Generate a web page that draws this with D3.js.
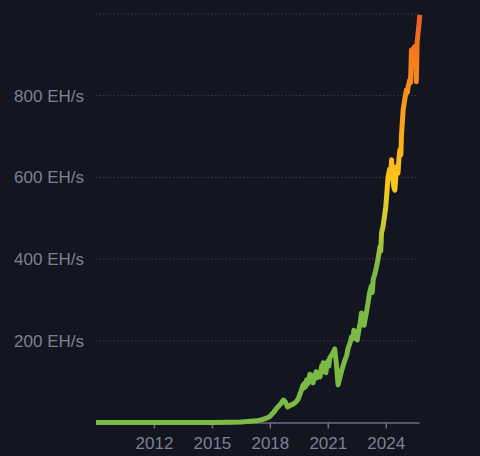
<!DOCTYPE html>
<html>
<head>
<meta charset="utf-8">
<script src="https://cdn.jsdelivr.net/npm/d3@7"></script>
<style>
  html, body { margin: 0; padding: 0; background: #131520; }
  svg { display: block; }
</style>
</head>
<body>
<script>
// hashrate, EH/s (decimal year, value)
var a_years = [2009.0, 2010, 2011, 2012, 2013, 2014, 2015, 2016, 2016.5, 2017, 2017.3, 2017.6, 2017.9,
  2018.0, 2018.2, 2018.35, 2018.55, 2018.7, 2018.8, 2018.92, 2019.05, 2019.2, 2019.35, 2019.47, 2019.6,
  2019.72, 2019.76, 2019.8, 2019.85, 2019.9, 2019.97, 2020.07, 2020.12, 2020.17, 2020.24, 2020.32, 2020.36,
  2020.4, 2020.45, 2020.5, 2020.6, 2020.68, 2020.72, 2020.76, 2020.83, 2020.9, 2020.95, 2021.0, 2021.05,
  2021.1, 2021.2, 2021.28, 2021.36, 2021.45, 2021.53, 2021.6, 2021.7,
  2021.8, 2021.9, 2021.97, 2022.05, 2022.15, 2022.23, 2022.3, 2022.35, 2022.45, 2022.52, 2022.6, 2022.68,
  2022.74, 2022.78, 2022.82, 2022.88, 2022.92, 2023.0, 2023.08, 2023.15, 2023.25, 2023.3, 2023.35, 2023.45,
  2023.52, 2023.6, 2023.7, 2023.74, 2023.78, 2023.86, 2023.95, 2024.0, 2024.07, 2024.12, 2024.2, 2024.25,
  2024.3, 2024.36, 2024.42, 2024.47, 2024.52, 2024.56, 2024.63, 2024.68, 2024.73, 2024.78, 2024.81, 2024.85,
  2024.9, 2024.98, 2025.07, 2025.12, 2025.15, 2025.24, 2025.28, 2025.33, 2025.42, 2025.5, 2025.55, 2025.58,
  2025.6, 2025.62, 2025.67, 2025.72, 2025.76];
var a_hashrate = [0, 0, 0, 0, 0.01, 0.1, 0.3, 0.8, 1.5, 3, 4, 7, 12,
  15, 25, 35, 45, 55, 50, 38, 42, 45, 50, 58, 75,
  92, 84, 96, 88, 104, 95, 118, 104, 112, 97, 118, 108,
  124, 110, 118, 112, 138, 124, 146, 130, 122, 140, 150, 138,
  158, 165, 172, 180, 140, 92, 105, 124,
  140, 155, 163, 182, 195, 210, 205, 226, 215, 202, 225, 245,
  268, 250, 258, 238, 250, 270, 292, 315, 334, 318, 350, 366,
  381, 400, 430, 420, 464, 480, 510, 528, 570, 602, 620, 598,
  643, 600, 575, 569, 600, 626, 610, 645, 667, 655, 700, 730,
  765, 790, 814, 808, 820, 838, 832, 912, 915, 920, 900, 834,
  870, 928, 953, 975, 998];

var a_x_ticks = [2012, 2015, 2018, 2021, 2024];
var a_y_grid = [200, 400, 600, 800, 1000];
var a_y_labels = [200, 400, 600, 800];

// colour of the line by value
var a_grad_values = [0, 380, 480, 580, 700, 800, 900, 1000];
var a_grad_colors = ["#7bba44", "#7bba44", "#c9cb30", "#fbc71c", "#fbad18", "#f8921c", "#f47c1b", "#ee5a26"];

const v_width = 480, v_height = 456;
const d_margin = {top: 14, right: 61, bottom: 33.5, left: 96};

var x = d3.scaleLinear().domain([2009, 2025.72]).range([d_margin.left, v_width - d_margin.right]);
var y = d3.scaleLinear().domain([0, 1000]).range([v_height - d_margin.bottom, d_margin.top]);

var data = a_years.map(function(d, i) { return {year: d, value: a_hashrate[i]}; });

var svg = d3.select("body").append("svg")
    .attr("width", v_width)
    .attr("height", v_height)
    .style("font-family", "'Liberation Sans', Arial, sans-serif");

svg.append("rect").attr("width", v_width).attr("height", v_height).attr("fill", "#131520");

var grad = svg.append("defs").append("linearGradient")
    .attr("id", "line_grad")
    .attr("gradientUnits", "userSpaceOnUse")
    .attr("x1", 0).attr("x2", 0)
    .attr("y1", y(0)).attr("y2", y(1000));
grad.selectAll("stop")
    .data(a_grad_values)
    .enter().append("stop")
    .attr("offset", function(d) { return d / 1000; })
    .attr("stop-color", function(d, i) { return a_grad_colors[i]; });

// dotted grid
svg.append("g").selectAll("line")
    .data(a_y_grid)
    .enter().append("line")
    .attr("x1", x(2009)).attr("x2", x(2025.6))
    .attr("y1", function(d) { return y(d); })
    .attr("y2", function(d) { return y(d); })
    .attr("stroke", "#3a3e4f")
    .attr("stroke-width", 1)
    .attr("stroke-dasharray", "1.5,2");

// y labels
svg.append("g").selectAll("text")
    .data(a_y_labels)
    .enter().append("text")
    .attr("x", 84)
    .attr("y", function(d) { return y(d); })
    .attr("dy", "0.35em")
    .attr("text-anchor", "end")
    .attr("fill", "#7e8191")
    .style("font-size", "17px")
    .text(function(d) { return d + " EH/s"; });

// x axis
var x_axis = d3.axisBottom(x)
    .tickValues(a_x_ticks)
    .tickFormat(d3.format("d"))
    .tickSize(6)
    .tickSizeOuter(0)
    .tickPadding(8);

var g_x = svg.append("g")
    .attr("transform", `translate(0, ${y(0)})`)
    .call(x_axis);
g_x.select(".domain").attr("stroke", "#6b6e7d").attr("stroke-width", 1.5);
g_x.selectAll(".tick line").attr("stroke", "#6b6e7d").attr("stroke-width", 1.5).attr("y1", 0);
g_x.selectAll(".tick text")
    .attr("fill", "#7e8191")
    .style("font-size", "17px")
    .style("font-family", "'Liberation Sans', Arial, sans-serif");

// the line
var line = d3.line()
    .x(function(d) { return x(d.year); })
    .y(function(d) { return y(d.value); })
    .curve(d3.curveLinear);

svg.append("path")
    .datum(data)
    .attr("d", line)
    .attr("fill", "none")
    .attr("stroke", "url(#line_grad)")
    .attr("stroke-width", 5)
    .attr("stroke-linejoin", "round")
    .attr("stroke-linecap", "butt");
</script>
</body>
</html>
